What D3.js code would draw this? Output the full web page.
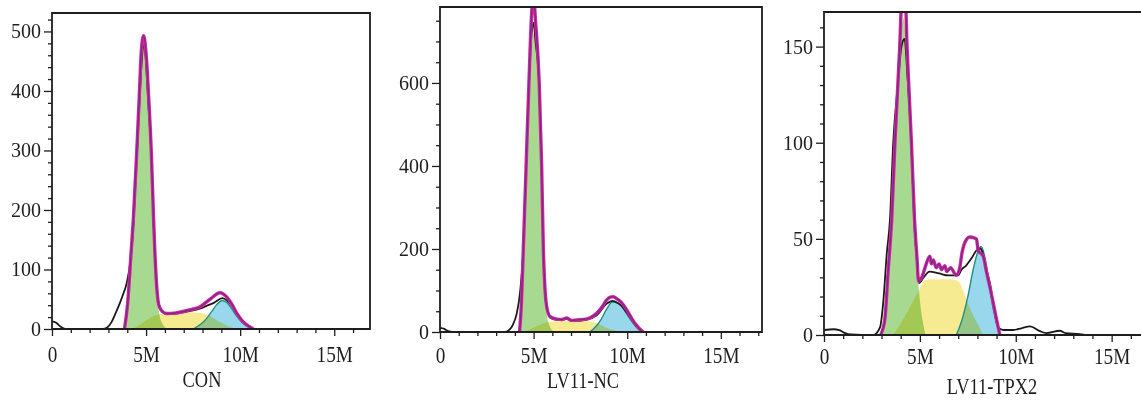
<!DOCTYPE html>
<html><head><meta charset="utf-8">
<script src="https://cdn.jsdelivr.net/npm/d3@7"></script>
<style>
body{margin:0;background:#fff}
svg{display:block}
text{font-family:"Liberation Serif","Times New Roman",serif;fill:#1e1e1e}
</style>
</head><body><svg id="c" width="1141" height="400"></svg>
<script>
// ---------- data (x in millions, y = count) ----------
const xTickValues = [0, 5, 10, 15];
const xTickLabels = ["0", "5M", "10M", "15M"];
const panelTitles = ["CON", "LV11-NC", "LV11-TPX2"];
const conYTicks = [0, 100, 200, 300, 400, 500];
const ncYTicks = [0, 200, 400, 600];
const tpxYTicks = [0, 50, 100, 150];

// CON
const conRaw = [[0,13],[0.2,11],[0.45,4],[0.7,0],[2.7,0],[2.95,3],[3.17,12],[3.4,28],[3.6,43],[3.8,60],[3.97,77],[4.15,110],[4.3,160],[4.45,255],[4.6,350],[4.75,440],[4.86,478],[4.98,455],[5.1,390],[5.28,290],[5.4,180],[5.47,125],[5.58,62],[5.7,37],[5.9,28],[6.1,25],[6.6,26],[7.3,30],[7.85,34],[8.3,40],[8.6,44],[9.06,52],[9.3,48],[9.46,43],[9.8,27],[10.1,15],[10.4,6],[10.8,0],[16.9,0]];
const conFit = [[3.85,0],[4.02,43],[4.2,127],[4.32,183],[4.5,295],[4.66,407],[4.74,464],[4.87,493],[4.98,470],[5.05,440],[5.12,400],[5.28,295],[5.4,183],[5.47,127],[5.58,65],[5.68,40],[5.85,30],[6.1,26],[6.6,27],[7.3,32],[7.85,37],[8.4,50],[8.93,61],[9.28,54],[9.55,42],[9.81,27],[10.1,14],[10.35,7],[10.7,0]];
const conG1 = [[3.9,0],[4.02,40],[4.2,120],[4.32,178],[4.5,290],[4.66,400],[4.74,455],[4.87,480],[4.98,460],[5.12,390],[5.28,285],[5.4,170],[5.47,115],[5.58,55],[5.7,25],[5.85,10],[6.0,3],[6.2,0]];
const conS = [[4.3,0],[4.8,10],[5.3,20],[5.8,25],[6.5,26],[7.3,28],[7.9,27],[8.4,22],[8.9,12],[9.4,4],[9.8,0]];
const conG2 = [[7.5,0],[7.9,8],[8.2,17],[8.5,30],[8.75,41],[9.05,48],[9.3,44],[9.55,34],[9.8,22],[10.1,11],[10.4,4],[10.7,0]];

// LV11-NC
const ncRaw = [[0,10],[0.2,8],[0.45,2],[0.65,0],[3.5,0],[3.7,5],[3.9,18],[4.1,45],[4.27,93],[4.45,200],[4.6,400],[4.75,600],[4.9,720],[5.0,745],[5.1,700],[5.3,590],[5.43,395],[5.52,195],[5.6,105],[5.7,58],[5.88,35],[6.23,29],[6.77,31],[7.3,27],[7.8,29],[8.37,40],[8.9,68],[9.2,75],[9.5,70],[9.7,63],[10.0,45],[10.3,25],[10.6,8],[10.9,0],[17.2,0]];
const ncFit = [[4.25,0],[4.35,70],[4.45,200],[4.6,400],[4.75,600],[4.9,770],[5.0,810],[5.1,750],[5.3,600],[5.43,400],[5.52,200],[5.6,110],[5.7,61],[5.88,37],[6.23,31],[6.5,30],[6.77,34],[7.0,28],[7.3,29],[7.8,31],[8.1,36],[8.37,45],[8.65,60],[8.9,77],[9.1,84],[9.26,85],[9.45,80],[9.7,71],[9.95,55],[10.15,40],[10.35,25],[10.5,16],[10.7,6],[10.86,0]];
const ncG1 = [[4.3,0],[4.45,170],[4.6,370],[4.75,560],[4.9,690],[5.0,720],[5.1,680],[5.3,550],[5.43,370],[5.52,185],[5.6,95],[5.7,45],[5.85,15],[6.0,4],[6.2,0]];
const ncS = [[4.5,0],[5.0,10],[5.5,20],[6.0,25],[7.0,26],[7.8,26],[8.3,22],[8.8,12],[9.3,4],[9.8,0]];
const ncG2 = [[8.0,0],[8.3,12],[8.6,30],[8.9,55],[9.2,72],[9.45,70],[9.7,62],[10.0,42],[10.3,22],[10.6,7],[10.85,0]];

// LV11-TPX2
const tpxRaw = [[0,2.6],[0.5,3],[0.8,2.5],[1.1,1],[1.4,0.3],[2.57,0],[2.92,4],[3.09,17],[3.27,42],[3.44,60],[3.61,100],[3.85,130],[4.04,150],[4.2,154],[4.35,135],[4.56,98],[4.7,60],[4.85,38],[4.95,27],[5.2,30],[5.5,33],[6.0,32],[6.5,31],[7.0,31],[7.17,34],[7.4,36],[7.7,40],[7.95,44],[8.15,45],[8.3,42],[8.47,34],[8.65,27],[8.82,17],[9.08,4],[9.35,2.6],[9.87,2.6],[10.3,3.5],[10.74,4.5],[11.26,2],[11.6,1],[12.3,2.2],[12.6,1],[13.35,0.5],[13.6,0],[17,0]];
const tpxFit = [[2.95,0],[3.17,8],[3.35,34],[3.53,60],[3.7,100],[3.95,150],[4.05,172],[4.25,172],[4.33,150],[4.56,100],[4.72,60],[4.85,40],[4.93,28],[5.1,30],[5.3,36],[5.52,41],[5.6,37],[5.7,39],[5.85,35],[6.0,37],[6.13,34],[6.3,36],[6.4,33],[6.6,35],[6.9,31],[7.08,35],[7.2,43],[7.34,48],[7.6,51],[7.95,50],[8.04,44],[8.3,41],[8.47,33],[8.65,25],[9.0,8],[9.17,0]];
const tpxG1 = [[3.05,0],[3.2,8],[3.35,30],[3.53,58],[3.7,97],[3.95,145],[4.15,165],[4.3,148],[4.56,98],[4.72,58],[4.85,36],[5.0,18],[5.15,7],[5.3,0]];
const tpxS = [[3.6,0],[4.0,6],[4.5,15],[5.0,24],[5.2,28],[5.5,29],[6.5,29],[7.0,28],[7.3,22],[7.6,14],[8.0,6],[8.3,0]];
const tpxG2 = [[6.9,0],[7.2,8],[7.5,20],[7.8,35],[8.05,44],[8.2,46],[8.4,40],[8.6,28],[8.8,15],[9.0,6],[9.2,0]];

// ---------- layout ----------
const panels = [
  {title: panelTitles[0], yTicks: conYTicks, raw: conRaw, fit: conFit, g1: conG1, s: conS, g2: conG2,
   left: 52, right: 370, top: 13, bottom: 329, xMax: 16.9, yMax: 531, yMinor: 20, titleX: 202, titleY: 387, labelY: 362},
  {title: panelTitles[1], yTicks: ncYTicks, raw: ncRaw, fit: ncFit, g1: ncG1, s: ncS, g2: ncG2,
   left: 440, right: 762, top: 7, bottom: 332, xMax: 17.2, yMax: 783, yMinor: 50, titleX: 583, titleY: 388, labelY: 363},
  {title: panelTitles[2], yTicks: tpxYTicks, raw: tpxRaw, fit: tpxFit, g1: tpxG1, s: tpxS, g2: tpxG2,
   left: 824, right: 1150, top: 12, bottom: 335, xMax: 17.0, yMax: 168, yMinor: 10, titleX: 992, titleY: 394, labelY: 364}
];

const svg = d3.select("#c");

panels.forEach((p, i) => {
  const x = d3.scaleLinear().domain([0, p.xMax]).range([p.left, p.right]);
  const y = d3.scaleLinear().domain([0, p.yMax]).range([p.bottom, p.top]);
  const g = svg.append("g");

  const clipId = "clip" + i;
  svg.append("clipPath").attr("id", clipId).append("rect")
    .attr("x", p.left).attr("y", p.top).attr("width", p.right - p.left).attr("height", p.bottom - p.top);

  const plot = g.append("g").attr("clip-path", `url(#${clipId})`);
  const fills = plot.append("g").style("isolation", "isolate");

  const area = d3.area().x(d => x(d[0])).y0(y(0)).y1(d => y(d[1])).curve(d3.curveMonotoneX);
  const line = d3.line().x(d => x(d[0])).y(d => y(d[1])).curve(d3.curveMonotoneX);

  fills.append("path").datum(p.g1).attr("d", area).attr("fill", "#a3d78a").attr("fill-opacity", 0.95).style("mix-blend-mode", "multiply");
  fills.append("path").datum(p.s).attr("d", area).attr("fill", "#f7ea8c").attr("fill-opacity", 0.95).style("mix-blend-mode", "multiply");
  fills.append("path").datum(p.g2).attr("d", area).attr("fill", "#93d5ec").attr("fill-opacity", 0.95).style("mix-blend-mode", "multiply");

  plot.append("path").datum(p.g2).attr("d", line).attr("fill", "none").attr("stroke", "#1f8f86").attr("stroke-width", 1.4);
  plot.append("path").datum(p.raw).attr("d", line).attr("fill", "none").attr("stroke", "#1a1a1a").attr("stroke-width", 1.8);
  plot.append("path").datum(p.fit).attr("d", line).attr("fill", "none").attr("stroke", "#e0258f").attr("stroke-width", 3.4).attr("stroke-linejoin", "round");
  plot.append("path").datum(p.fit).attr("d", line).attr("fill", "none").attr("stroke", "#6b2c9c").attr("stroke-width", 1.3).attr("stroke-linejoin", "round");

  // frame
  g.append("path")
    .attr("d", `M${p.left},${p.bottom}V${p.top}H${p.right}V${p.bottom}Z`)
    .attr("fill", "none").attr("stroke", "#1e1e1e").attr("stroke-width", 1.8);

  // y axis
  const yMinorVals = d3.range(0, p.yMax, p.yMinor).filter(v => !p.yTicks.includes(v));
  const yMin = g.append("g").attr("transform", `translate(${p.left},0)`)
    .call(d3.axisLeft(y).tickValues(yMinorVals).tickSize(4).tickFormat(""));
  const yMaj = g.append("g").attr("transform", `translate(${p.left},0)`)
    .call(d3.axisLeft(y).tickValues(p.yTicks).tickSize(8).tickPadding(3));
  [yMin, yMaj].forEach(a => { a.select(".domain").remove(); a.selectAll("line").attr("stroke", "#1e1e1e").attr("stroke-width", 1.3); });
  yMaj.selectAll("text").attr("font-size", 20).attr("font-family", "Liberation Serif").attr("fill", "#1e1e1e");

  // x axis
  const xMinorVals = d3.range(0, p.xMax, 1).filter(v => !xTickValues.includes(v));
  const xMin = g.append("g").attr("transform", `translate(0,${p.bottom})`)
    .call(d3.axisBottom(x).tickValues(xMinorVals).tickSize(4).tickFormat(""));
  const xMaj = g.append("g").attr("transform", `translate(0,${p.bottom})`)
    .call(d3.axisBottom(x).tickValues(xTickValues).tickSize(7).tickFormat((d, k) => xTickLabels[k]));
  [xMin, xMaj].forEach(a => { a.select(".domain").remove(); a.selectAll("line").attr("stroke", "#1e1e1e").attr("stroke-width", 1.3); });
  xMaj.selectAll("text")
    .attr("font-size", 24).attr("font-family", "Liberation Serif").attr("fill", "#1e1e1e")
    .attr("y", p.labelY - p.bottom).attr("dy", 0)
    .attr("transform", "scale(0.8,1)");

  // title
  g.append("text")
    .attr("transform", `translate(${p.titleX},${p.titleY}) scale(0.8,1)`)
    .attr("text-anchor", "middle").attr("font-size", 23)
    .text(p.title);
});
</script>
</body></html>
